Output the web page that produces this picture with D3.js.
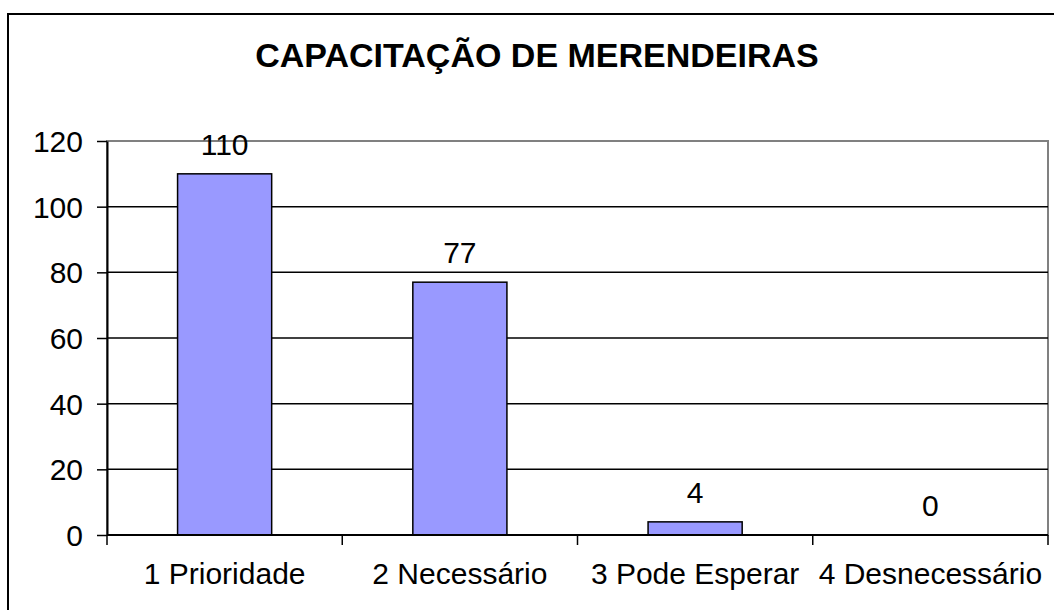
<!DOCTYPE html>
<html>
<head>
<meta charset="utf-8">
<script src="https://cdn.jsdelivr.net/npm/d3@7"></script>
<style>
  html, body { margin: 0; padding: 0; background: #fff; }
  svg { display: block; font-family: "Liberation Sans", Arial, sans-serif; }
</style>
</head>
<body>
<div id="plot"></div>
<script>
const categories = ["1 Prioridade", "2 Necessário", "3 Pode Esperar", "4 Desnecessário"];
const values = [110, 77, 4, 0];
const yTicks = [0, 20, 40, 60, 80, 100, 120];
const title = "CAPACITAÇÃO DE MERENDEIRAS";

const W = 1054, H = 610;
const plot = {left: 107, right: 1048, top: 141, bottom: 535};
const pad = 0.3;
const fontSize = 30;

const svg = d3.select("#plot").append("svg")
  .attr("width", W)
  .attr("height", H);

// outer frame (runs past the right and bottom edges)
svg.append("rect")
  .attr("x", 8).attr("y", 14)
  .attr("width", 1100).attr("height", 700)
  .attr("fill", "#fff")
  .attr("stroke", "#000")
  .attr("stroke-width", 2);

svg.append("text")
  .attr("x", 537)
  .attr("y", 67)
  .attr("text-anchor", "middle")
  .attr("font-size", 34)
  .attr("font-weight", "bold")
  .text(title);

const x = d3.scaleBand()
  .domain(categories)
  .range([plot.left, plot.right])
  .paddingInner(0.6)
  .paddingOuter(pad);

const y = d3.scaleLinear()
  .domain([0, 120])
  .range([plot.bottom, plot.top]);

// plot area border (grey)
svg.append("rect")
  .attr("x", plot.left).attr("y", plot.top)
  .attr("width", plot.right - plot.left)
  .attr("height", plot.bottom - plot.top)
  .attr("fill", "none")
  .attr("stroke", "#808080")
  .attr("stroke-width", 2);

// gridlines
svg.append("g")
  .selectAll("line")
  .data(yTicks.filter(t => t > 0 && t < 120))
  .join("line")
  .attr("x1", plot.left).attr("x2", plot.right)
  .attr("y1", d => y(d)).attr("y2", d => y(d))
  .attr("stroke", "#000")
  .attr("stroke-width", 1.5);

// bars
svg.append("g")
  .selectAll("rect")
  .data(values)
  .join("rect")
  .attr("x", (d, i) => x(categories[i]))
  .attr("y", d => y(d))
  .attr("width", x.bandwidth())
  .attr("height", d => y(0) - y(d))
  .attr("fill", "#9999ff")
  .attr("stroke", "#000")
  .attr("stroke-width", 1.5);

// value labels
svg.append("g")
  .selectAll("text")
  .data(values)
  .join("text")
  .attr("x", (d, i) => x(categories[i]) + x.bandwidth() / 2)
  .attr("y", d => y(d) - 19)
  .attr("text-anchor", "middle")
  .attr("font-size", fontSize)
  .text(d => d);

// y axis
const yAxis = svg.append("g")
  .attr("transform", `translate(${plot.left},0)`)
  .call(d3.axisLeft(y).tickValues(yTicks).tickSize(10).tickSizeOuter(0).tickPadding(14));
yAxis.select(".domain").attr("stroke", "#000").attr("stroke-width", 2);
yAxis.selectAll(".tick line").attr("stroke", "#000").attr("stroke-width", 1.5);
yAxis.selectAll(".tick text")
  .attr("font-size", fontSize)
  .attr("font-family", "Liberation Sans, Arial, sans-serif")
  .attr("fill", "#000")
  .attr("dy", "0.35em");

// x axis line
svg.append("line")
  .attr("x1", plot.left).attr("x2", plot.right)
  .attr("y1", y(0)).attr("y2", y(0))
  .attr("stroke", "#000")
  .attr("stroke-width", 2);

// x ticks at category boundaries
const bounds = categories.map(c => x(c) - x.step() * pad);
bounds.push(x(categories[categories.length - 1]) + x.bandwidth() + x.step() * pad);
svg.append("g")
  .selectAll("line")
  .data(bounds)
  .join("line")
  .attr("x1", d => d).attr("x2", d => d)
  .attr("y1", y(0)).attr("y2", y(0) + 10)
  .attr("stroke", "#000")
  .attr("stroke-width", 1.5);

// category labels
svg.append("g")
  .selectAll("text")
  .data(categories)
  .join("text")
  .attr("x", d => x(d) + x.bandwidth() / 2)
  .attr("y", 584)
  .attr("text-anchor", "middle")
  .attr("font-size", fontSize)
  .text(d => d);
</script>
</body>
</html>
